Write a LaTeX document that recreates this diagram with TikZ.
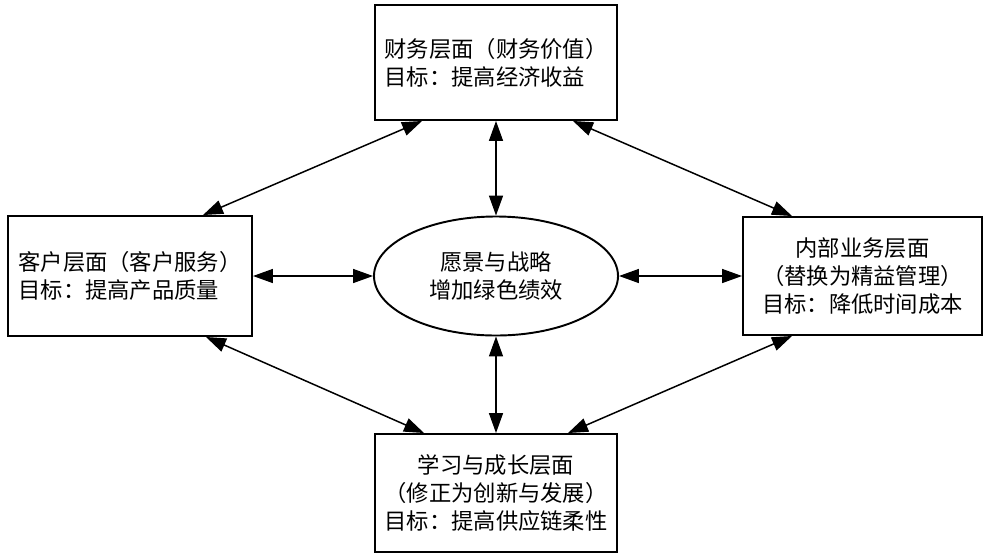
\documentclass[tikz,border=0pt]{standalone}
\usepackage{fontspec}
\usepackage{tikz}
\usetikzlibrary{arrows.meta,positioning,shapes}
\newfontfamily\cjk{Noto Sans CJK SC}

\begin{document}
\begin{tikzpicture}[
  layer/.style={draw,line width=1.1pt,minimum width=4.84cm,minimum height=2.36cm,font=\cjk\fontsize{12.7}{15.8}\selectfont},
  dbl/.style={{Triangle[length=4mm,width=2.8mm]}-{Triangle[length=4mm,width=2.8mm]},line width=0.85pt}]
\useasboundingbox (0,0) rectangle (19.74,-11.1);
\node[layer,minimum height=2.3cm,align=left] (fin) at (9.92,-1.25) {财务层面（财务价值）\\目标：提高经济收益};
\node[layer,minimum width=4.88cm,minimum height=2.4cm,align=left] (cust) at (2.6,-5.52) {客户层面（客户服务）\\目标：提高产品质量};
\node[layer,minimum width=4.78cm,align=center] (inner) at (17.25,-5.52) {内部业务层面\\（替换为精益管理）\\目标：降低时间成本};
\node[layer,align=center] (learn) at (9.92,-9.86) {学习与成长层面\\（修正为创新与发展）\\目标：提高供应链柔性};
\node[draw,ellipse,line width=1.1pt,minimum width=4.88cm,minimum height=2.38cm,align=center,
  font=\cjk\fontsize{12.7}{15.8}\selectfont] (vis) at (9.92,-5.52) {愿景与战略\\增加绿色绩效};
\draw[dbl] (fin.south) -- (vis.north);
\draw[dbl] (vis.south) -- (learn.north);
\draw[dbl] (cust.east) -- (vis.west);
\draw[dbl] (vis.east) -- (inner.west);
\draw[dbl] ([xshift=-1cm]cust.north east) -- ([xshift=0.96cm]fin.south west);
\draw[dbl] ([xshift=1cm]inner.north west) -- ([xshift=-0.9cm]fin.south east);
\draw[dbl] ([xshift=-0.94cm]cust.south east) -- ([xshift=1cm]learn.north west);
\draw[dbl] ([xshift=1cm]inner.south west) -- ([xshift=-1cm]learn.north east);
\end{tikzpicture}
\end{document}
